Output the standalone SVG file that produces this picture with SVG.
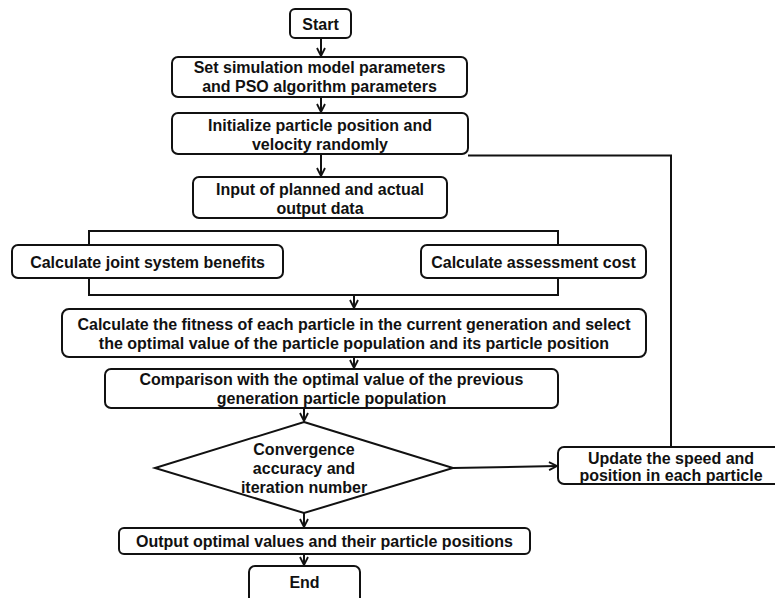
<svg xmlns="http://www.w3.org/2000/svg" width="775" height="598" viewBox="0 0 775 598">
<style>
.box{fill:#fff;stroke:#111;stroke-width:2}
.ln{fill:none;stroke:#111;stroke-width:2}
text{font-family:"Liberation Sans",Arial,sans-serif;font-weight:bold;font-size:16px;fill:#111;text-anchor:middle}
</style>
<defs>
<marker id="ah" viewBox="0 0 10 10" refX="9" refY="5" markerWidth="5" markerHeight="5" markerUnits="strokeWidth" orient="auto">
<path d="M1,1 L9,5 L1,9" fill="none" stroke="#111" stroke-width="1.8"/>
</marker>
</defs>
<rect width="775" height="598" fill="#fff"/>
<g id="connectors">
<path class="ln" d="M321,38 V56" marker-end="url(#ah)"/>
<path class="ln" d="M321,97 V112" marker-end="url(#ah)"/>
<path class="ln" d="M321,154 V176" marker-end="url(#ah)"/>
<path class="ln" d="M468,155.5 H671 V447"/>
<path class="ln" d="M89,245 V231 H558 V245"/>
<path class="ln" d="M89,278 V295 H558 V278"/>
<path class="ln" d="M354,295 V308" marker-end="url(#ah)"/>
<path class="ln" d="M354,357 V368" marker-end="url(#ah)"/>
<path class="ln" d="M304,408 V421" marker-end="url(#ah)"/>
<path class="ln" d="M453,468 L557,466" marker-end="url(#ah)"/>
<path class="ln" d="M304,513 V527" marker-end="url(#ah)"/>
<path class="ln" d="M304,554 V565" marker-end="url(#ah)"/>
</g>
<g id="start"><rect class="box" x="290" y="9" width="61" height="29" rx="5"/><text x="320.5" y="29.5">Start</text></g>
<g id="set"><rect class="box" x="172" y="57" width="295" height="40" rx="6"/><text x="319.5" y="72.5">Set simulation model parameters</text><text x="319.5" y="91.5">and PSO algorithm parameters</text></g>
<g id="init"><rect class="box" x="172" y="113" width="296" height="41" rx="6"/><text x="320" y="130.5">Initialize particle position and</text><text x="320" y="149.5">velocity randomly</text></g>
<g id="input"><rect class="box" x="193" y="177" width="254" height="41" rx="6"/><text x="320" y="194.5">Input of planned and actual</text><text x="320" y="213.5">output data</text></g>
<g id="joint"><rect class="box" x="12" y="245" width="271" height="33" rx="6"/><text x="147.5" y="267.5">Calculate joint system benefits</text></g>
<g id="assess"><rect class="box" x="421" y="245" width="225" height="33" rx="6"/><text x="533.5" y="267.5">Calculate assessment cost</text></g>
<g id="fitness"><rect class="box" x="62" y="309" width="584" height="48" rx="7"/><text x="354" y="329.5">Calculate the fitness of each particle in the current generation and select</text><text x="354" y="348.5">the optimal value of the particle population and its particle position</text></g>
<g id="compare"><rect class="box" x="105" y="369" width="453" height="39" rx="6"/><text x="331.5" y="384.5">Comparison with the optimal value of the previous</text><text x="331.5" y="403.5">generation particle population</text></g>
<g id="decision"><polygon class="box" points="304,422 453,468 304,513 155,468"/><text x="304" y="454.5">Convergence</text><text x="304" y="473.5">accuracy and</text><text x="304" y="492.5">iteration number</text></g>
<g id="update"><rect class="box" x="558" y="447" width="226" height="37" rx="6"/><text x="671" y="463.5">Update the speed and</text><text x="671" y="480.5">position in each particle</text></g>
<g id="output"><rect class="box" x="119" y="528" width="411" height="26" rx="5"/><text x="324.5" y="546.5">Output optimal values and their particle positions</text></g>
<g id="end"><rect class="box" x="249" y="566" width="111" height="40" rx="6"/><text x="304.5" y="587.5">End</text></g>
</svg>
